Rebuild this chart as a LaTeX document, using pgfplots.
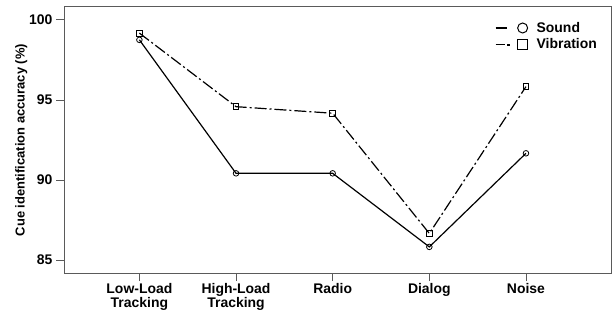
\documentclass[border=0pt]{standalone}
\usepackage{fontspec}
\setmainfont{Liberation Sans}
\usepackage{pgfplots}
\pgfplotsset{compat=1.18}
\definecolor{axgray}{RGB}{90,90,90}
\begin{document}
\begin{tikzpicture}[x=1bp,y=1bp]
\path[use as bounding box] (0,0) rectangle (613,314);
\begin{axis}[
  at={(64bp,41bp)}, anchor=south west, scale only axis,
  width=547bp, height=266bp,
  xmin=-0.78, xmax=4.88, ymin=84.2, ymax=100.8,
  xtick={0,1,2,3,4},
  xticklabels={{Low-Load\\Tracking},{High-Load\\Tracking},Radio,Dialog,Noise},
  xticklabel style={align=center, font=\bfseries\fontsize{14}{13.5}\selectfont, yshift=1bp},
  ytick={85,90,95,100},
  yticklabel style={font=\bfseries\fontsize{14}{14}\selectfont},
  /pgf/number format/assume math mode=true,
  tick align=outside, major tick length=8bp,
  xtick pos=bottom, ytick pos=left,
  axis line style={axgray, line width=1bp},
  every tick/.style={axgray, line width=0.8bp},
  ylabel={\bfseries Cue identification accuracy (\%)},
  ylabel style={font=\bfseries\fontsize{13}{14}\selectfont, yshift=-5bp},
  legend style={at={(1,1)}, anchor=north east, draw=none, fill=none,
    font=\bfseries\fontsize{14}{15}\selectfont, xshift=-10bp, yshift=-11bp,
    row sep=1bp, inner sep=2bp},
  legend cell align=left,
]
\addlegendimage{legend image code/.code={
  \path[draw=none, fill=none] (-8bp,0bp) -- (31bp,0bp);
  \draw[black, solid, line width=1.2bp] (-8bp,0bp)--(3bp,0bp);
  \draw[black, solid, line width=1bp] (19bp,0bp) circle (5bp);}}
\addlegendentry{Sound}
\addlegendimage{legend image code/.code={
  \path[draw=none, fill=none] (-8bp,0bp) -- (31bp,0bp);
  \draw[black, solid, line width=1.2bp] (-8bp,0bp)--(1bp,0bp);
  \fill[black] (4bp,-0.6bp) rectangle (5.2bp,0.6bp);
  \draw[black, solid, line width=1bp] (14bp,-5bp) rectangle (24bp,5bp);}}
\addlegendentry{Vibration}
\addplot[black, line width=1.2bp, mark=o, mark size=2.8bp, mark options={line width=0.8bp, solid}, forget plot] coordinates {
 (0,98.75) (1,90.42) (2,90.42) (3,85.83) (4,91.67)};
\addplot[black, line width=1.2bp, dash pattern=on 12bp off 3bp on 2bp off 3bp, mark=square, mark size=2.8bp, mark options={line width=0.8bp, solid}, forget plot] coordinates {
 (0,99.17) (1,94.58) (2,94.17) (3,86.67) (4,95.83)};
\end{axis}
\end{tikzpicture}
\end{document}
